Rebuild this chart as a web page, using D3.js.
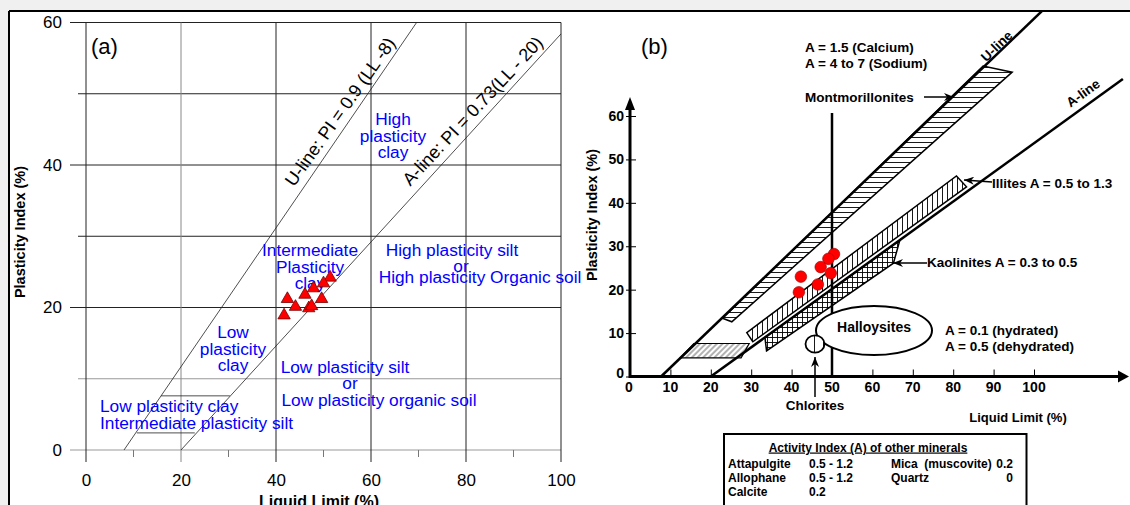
<!DOCTYPE html>
<html lang="en">
<head>
<meta charset="UTF-8">
<title>Plasticity chart</title>
<script src="https://d3js.org/d3.v7.min.js"></script>
<style>
  body { margin: 0; background: #f0f0f0; }
  svg text { font-family: "Liberation Sans", Arial, sans-serif; }
  .zone { fill: #0000ff; font-size: 17.3px; }
  .b { font-weight: bold; }
</style>
</head>
<body>
<svg id="chart" width="1130" height="505"></svg>
<script>
// ---- panel (a): samples on the Casagrande chart ----
const llA = [51.4, 50.0, 47.9, 46.1, 42.4, 49.6, 44.1, 46.9, 47.5, 41.7];
const piA = [24.2, 23.4, 22.7, 21.8, 21.2, 21.2, 20.1, 19.9, 20.2, 18.9];
const uLineA = [[8, 0], [69.6, 60]];
const aLineA = [[20, 0], [100, 58.4]];
const clmlA = [[[15.8, 7.6], [30.3, 7.6]], [[10.7, 2.4], [22.9, 2.4]]];
const xTicksA = [0, 20, 40, 60, 80, 100];
const yTicksA = [0, 20, 40, 60];

// ---- panel (b): clay minerals ----
const llB = [50.5, 49.1, 47.2, 49.7, 42.3, 46.5, 41.8];
const piB = [28.2, 27.1, 25.2, 23.8, 23.0, 21.2, 19.4];
const uLineB = [[7.7, 0], [102, 84.2]];
const aLineB = [[20, 0], [122, 68.5]];
const montmorillonite = [[22.9, 13.4], [25.2, 12.6], [94.6, 70.1], [87.4, 71.5]];
const illite = [[28.9, 10.1], [30.4, 8.0], [83.3, 43.7], [80.8, 46.2]];
const kaolinite = [[33.4, 9.0], [33.8, 5.9], [65.2, 26.1], [66.8, 31.4]];
const clml = [[12.4, 4.3], [15.8, 7.6], [29.5, 7.6], [27.5, 4.3]];
const xTicksB = [10, 20, 30, 40, 50, 60, 70, 80, 90, 100];
const yTicksB = [0, 10, 20, 30, 40, 50, 60];
const otherMinerals = [["Attapulgite", "0.5 - 1.2"], ["Allophane", "0.5 - 1.2"], ["Calcite", "0.2"]];
const otherMinerals2 = [["Mica  (muscovite)", "0.2"], ["Quartz", "0"]];

const svg = d3.select('#chart');
const defs = svg.append('defs');

// hatch patterns
function hatch(id, w, h, segs, color, rot) {
  const p = defs.append('pattern').attr('id', id).attr('patternUnits', 'userSpaceOnUse')
    .attr('width', w).attr('height', h);
  if (rot) p.attr('patternTransform', `rotate(${rot})`);
  p.append('rect').attr('width', w).attr('height', h).attr('fill', '#fff');
  segs.forEach(s => p.append('line').attr('x1', s[0]).attr('y1', s[1]).attr('x2', s[2]).attr('y2', s[3])
    .attr('stroke', color).attr('stroke-width', 0.9));
}
hatch('hz', 8, 5, [[0, 2.5, 8, 2.5]], '#000');
hatch('vt', 5, 8, [[2.5, 0, 2.5, 8]], '#000');
hatch('vt2', 9, 8, [[4.5, 0, 4.5, 8]], '#000');
hatch('cx', 5, 5, [[0, 2.5, 5, 2.5], [2.5, 0, 2.5, 5]], '#000');
hatch('dg', 4, 4, [[2, 0, 2, 4]], '#555', 45);

defs.append('marker').attr('id', 'arr').attr('viewBox', '0 0 10 8')
  .attr('refX', 10).attr('refY', 4).attr('markerWidth', 10).attr('markerHeight', 8)
  .attr('markerUnits', 'userSpaceOnUse').attr('orient', 'auto')
  .append('path').attr('d', 'M0,0 L10,4 L0,8 L3,4 Z').attr('fill', '#000');

defs.append('clipPath').attr('id', 'clipB').append('rect')
  .attr('x', 596).attr('y', 12).attr('width', 534).attr('height', 493);

// frame
svg.append('rect').attr('x', 9).attr('y', 11).attr('width', 1121).attr('height', 494).attr('fill', '#fff');
svg.append('line').attr('x1', 9).attr('y1', 11).attr('x2', 1130).attr('y2', 11).attr('stroke', '#000').attr('stroke-width', 2);
svg.append('line').attr('x1', 9).attr('y1', 11).attr('x2', 9).attr('y2', 505).attr('stroke', '#000').attr('stroke-width', 2);

// ================= panel (a) =================
const xA = d3.scaleLinear().domain([0, 100]).range([86, 561]);
const yA = d3.scaleLinear().domain([0, 60]).range([450, 22.5]);
const gA = svg.append('g');

// grid
d3.range(0, 61, 10).forEach(v => {
  gA.append('line').attr('x1', v % 20 === 0 ? 70 : 78).attr('x2', xA(100))
    .attr('y1', yA(v)).attr('y2', yA(v))
    .attr('stroke', (v === 0 || v === 10) ? '#999' : '#222').attr('stroke-width', 1);
});
xTicksA.forEach(v => {
  gA.append('line').attr('x1', xA(v)).attr('x2', xA(v)).attr('y1', yA(60)).attr('y2', 462)
    .attr('stroke', v === 20 ? '#888' : '#222').attr('stroke-width', 1);
});
[10, 30, 50, 70, 90].forEach(v => {
  gA.append('line').attr('x1', xA(v)).attr('x2', xA(v)).attr('y1', yA(0)).attr('y2', 457)
    .attr('stroke', '#777');
});

// axis labels via d3 axes
const axXA = gA.append('g').attr('transform', 'translate(0,474)')
  .call(d3.axisBottom(xA).tickValues(xTicksA).tickSize(0).tickPadding(0));
axXA.select('.domain').remove();
axXA.selectAll('text').attr('font-size', 17).attr('fill', '#000').attr('dy', '0.71em');
const axYA = gA.append('g').attr('transform', 'translate(62,0)')
  .call(d3.axisLeft(yA).tickValues(yTicksA).tickSize(0).tickPadding(0));
axYA.select('.domain').remove();
axYA.selectAll('text').attr('font-size', 17).attr('fill', '#000');

// lines
const lineA = d3.line().x(d => xA(d[0])).y(d => yA(d[1]));
[uLineA, aLineA].concat(clmlA).forEach(l => {
  gA.append('path').attr('d', lineA(l)).attr('stroke', '#222').attr('stroke-width', 0.8).attr('fill', 'none');
});

function rotLabel(g, txt, cx, cy, ang, size, cls) {
  g.append('text').attr('transform', `translate(${cx},${cy}) rotate(${ang})`)
    .attr('text-anchor', 'middle').attr('dy', '0.35em').attr('font-size', size)
    .attr('class', cls || null).text(txt);
}
rotLabel(gA, 'U-line: PI = 0.9 (LL -8)', 340, 111.7, -54.7, 18);
rotLabel(gA, 'A-line: PI = 0.73(LL - 20)', 472.5, 110.8, -46.9, 18);

// zone texts
function zone(g, lines, x, y0, dy, anchor) {
  const t = g.append('text').attr('class', 'zone').attr('text-anchor', anchor || 'middle');
  lines.forEach((s, i) => t.append('tspan').attr('x', x).attr('y', y0 + i * dy).text(s));
}
zone(gA, ['High', 'plasticity', 'clay'], 393, 125, 16.5);
zone(gA, ['Intermediate', 'Plasticity', 'clay'], 310, 256, 16.5);
zone(gA, ['High plasticity silt'], 452, 256, 0);
zone(gA, ['or'], 461, 272, 0);
zone(gA, ['High plasticity Organic soil'], 480, 283, 0);
zone(gA, ['Low', 'plasticity', 'clay'], 233, 338, 16.5);
zone(gA, ['Low plasticity silt'], 345, 373, 0);
zone(gA, ['or'], 350, 389, 0);
zone(gA, ['Low plasticity organic soil'], 379, 406, 0);
zone(gA, ['Low plasticity clay', 'Intermediate plasticity silt'], 100, 412, 16.5, 'start');

// samples
gA.selectAll('.tri').data(llA.map((d, i) => [d, piA[i]])).enter().append('path')
  .attr('class', 'tri')
  .attr('d', d3.symbol(d3.symbolTriangle, 66))
  .attr('transform', d => `translate(${xA(d[0])},${yA(d[1])})`)
  .attr('fill', '#ff0000').attr('stroke', '#700').attr('stroke-width', 0.8);

gA.append('text').attr('x', 91).attr('y', 54).attr('font-size', 22).text('(a)');
gA.append('text').attr('transform', 'translate(25,232) rotate(-90)').attr('text-anchor', 'middle')
  .attr('class', 'b').attr('font-size', 14.5).text('Plasticity Index (%)');
gA.append('text').attr('x', 319).attr('y', 507).attr('text-anchor', 'middle')
  .attr('class', 'b').attr('font-size', 16).text('Liquid Limit (%)');

// ================= panel (b) =================
const xB = d3.scaleLinear().domain([0, 100]).range([630, 1034]);
const yB = d3.scaleLinear().domain([0, 60]).range([376.5, 116]);
const gB = svg.append('g').attr('class', 'b');
const lineB = d3.line().x(d => xB(d[0])).y(d => yB(d[1]));
const polyB = pts => lineB(pts) + 'Z';
const zb = gB.append('g').attr('clip-path', 'url(#clipB)');

zb.append('path').attr('d', polyB(clml)).attr('fill', 'url(#dg)').attr('stroke', '#000').attr('stroke-width', 1.2);
zb.append('path').attr('d', polyB(montmorillonite)).attr('fill', 'url(#hz)').attr('stroke', '#000').attr('stroke-width', 1.5);
zb.append('path').attr('d', polyB(illite)).attr('fill', 'url(#vt)').attr('stroke', '#000').attr('stroke-width', 1.5);
zb.append('path').attr('d', polyB(kaolinite)).attr('fill', 'url(#cx)').attr('stroke', '#000').attr('stroke-width', 1.5);
[uLineB, aLineB].forEach(l => zb.append('path').attr('d', lineB(l)).attr('stroke', '#000')
  .attr('stroke-width', 2.5).attr('fill', 'none'));

// montmorillonite marker line at LL = 50
zb.append('line').attr('x1', xB(50)).attr('x2', xB(50)).attr('y1', 113).attr('y2', yB(0))
  .attr('stroke', '#000').attr('stroke-width', 2.5);

// halloysite & chlorite ellipses
zb.append('ellipse').attr('cx', 874).attr('cy', 330.5).attr('rx', 58).attr('ry', 24.5)
  .attr('fill', '#fff').attr('stroke', '#000').attr('stroke-width', 2);
zb.append('ellipse').attr('cx', 815).attr('cy', 344).attr('rx', 9.5).attr('ry', 8.7)
  .attr('fill', 'url(#vt2)').attr('stroke', '#000').attr('stroke-width', 1.8);

// axes
gB.append('line').attr('x1', xB(0)).attr('x2', 1118).attr('y1', yB(0)).attr('y2', yB(0))
  .attr('stroke', '#000').attr('stroke-width', 3);
gB.append('path').attr('d', `M1118,${yB(0) - 6}L1129,${yB(0)}L1118,${yB(0) + 6}Z`);
gB.append('line').attr('x1', xB(0)).attr('x2', xB(0)).attr('y1', yB(0) + 1.5).attr('y2', 108)
  .attr('stroke', '#000').attr('stroke-width', 3);
gB.append('path').attr('d', `M${xB(0) - 5},110L${xB(0)},97L${xB(0) + 5},110Z`);

const axXB = gB.append('g').attr('transform', `translate(0,${yB(0)})`)
  .call(d3.axisTop(xB).tickValues(xTicksB).tickSize(7).tickFormat(''));
axXB.select('.domain').remove();
xTicksB.concat([0]).forEach(v => gB.append('text').attr('x', xB(v) - (v === 0 ? 1 : 0)).attr('y', 392)
  .attr('text-anchor', 'middle').attr('font-size', 14).text(v));
const axYB = gB.append('g').attr('transform', `translate(${xB(0) + 6},0)`)
  .call(d3.axisLeft(yB).tickValues(yTicksB).tickSize(10).tickPadding(2));
axYB.select('.domain').remove();
axYB.selectAll('text').attr('font-size', 14).attr('fill', '#000').attr('font-weight', 'bold')
  .attr('dy', v => v === 0 ? '0.1em' : '0.32em');

// samples
gB.selectAll('.pt').data(llB.map((d, i) => [d, piB[i]])).enter().append('circle')
  .attr('class', 'pt').attr('cx', d => xB(d[0])).attr('cy', d => yB(d[1])).attr('r', 5.8)
  .attr('fill', '#ff0000').attr('stroke', '#900').attr('stroke-width', 0.6);

// annotations
gB.append('text').attr('x', 641).attr('y', 54).attr('font-size', 22).attr('font-weight', 'normal').text('(b)');
gB.append('text').attr('x', 805).attr('y', 52).attr('font-size', 13.5).text('A = 1.5 (Calcium)');
gB.append('text').attr('x', 805).attr('y', 68).attr('font-size', 13.5).text('A = 4 to 7 (Sodium)');
gB.append('text').attr('x', 805).attr('y', 102).attr('font-size', 13.5).text('Montmorillonites');
gB.append('line').attr('x1', 924).attr('y1', 97).attr('x2', 954).attr('y2', 97)
  .attr('stroke', '#000').attr('stroke-width', 1.5).attr('marker-end', 'url(#arr)');
rotLabel(gB, 'U-line', 996.5, 46, -43.7, 13.5, 'b');
rotLabel(gB, 'A-line', 1083, 93, -36, 13.5, 'b');
gB.append('text').attr('x', 992).attr('y', 188).attr('font-size', 13.5).text('Illites A = 0.5 to 1.3');
gB.append('line').attr('x1', 992).attr('y1', 182).attr('x2', 964).attr('y2', 180)
  .attr('stroke', '#000').attr('stroke-width', 1.5).attr('marker-end', 'url(#arr)');
gB.append('text').attr('x', 927).attr('y', 267).attr('font-size', 13.5).text('Kaolinites A = 0.3 to 0.5');
gB.append('line').attr('x1', 927).attr('y1', 263).attr('x2', 893).attr('y2', 263)
  .attr('stroke', '#000').attr('stroke-width', 1.5).attr('marker-end', 'url(#arr)');
gB.append('text').attr('x', 874).attr('y', 332).attr('text-anchor', 'middle').attr('font-size', 14).text('Halloysites');
gB.append('text').attr('x', 945).attr('y', 335).attr('font-size', 13.5).text('A = 0.1 (hydrated)');
gB.append('text').attr('x', 945).attr('y', 351).attr('font-size', 13.5).text('A = 0.5 (dehydrated)');
gB.append('line').attr('x1', 815).attr('y1', 397).attr('x2', 815).attr('y2', 357)
  .attr('stroke', '#000').attr('stroke-width', 1.5).attr('marker-end', 'url(#arr)');
gB.append('text').attr('x', 815).attr('y', 410).attr('text-anchor', 'middle').attr('font-size', 13.5).text('Chlorites');
gB.append('text').attr('x', 1018).attr('y', 422).attr('text-anchor', 'middle').attr('font-size', 13).text('Liquid Limit (%)');
gB.append('text').attr('transform', 'translate(597,215) rotate(-90)').attr('text-anchor', 'middle')
  .attr('font-size', 14.5).text('Plasticity Index (%)');

// activity table
gB.append('rect').attr('x', 724).attr('y', 434).attr('width', 302.5).attr('height', 80)
  .attr('fill', '#fff').attr('stroke', '#000').attr('stroke-width', 2);
gB.append('text').attr('x', 868).attr('y', 451.5).attr('text-anchor', 'middle').attr('font-size', 12)
  .attr('text-decoration', 'underline').text('Activity Index (A) of other minerals');
otherMinerals.forEach((r, i) => {
  gB.append('text').attr('x', 728).attr('y', 468 + i * 14.2).attr('font-size', 12).text(r[0]);
  gB.append('text').attr('x', 809).attr('y', 468 + i * 14.2).attr('font-size', 12).text(r[1]);
});
otherMinerals2.forEach((r, i) => {
  gB.append('text').attr('x', 891).attr('y', 468 + i * 14.2).attr('font-size', 12)
    .attr('xml:space', 'preserve').style('white-space', 'pre').text(r[0]);
  gB.append('text').attr('x', 1013).attr('y', 468 + i * 14.2).attr('text-anchor', 'end').attr('font-size', 12).text(r[1]);
});
</script>
</body>
</html>
